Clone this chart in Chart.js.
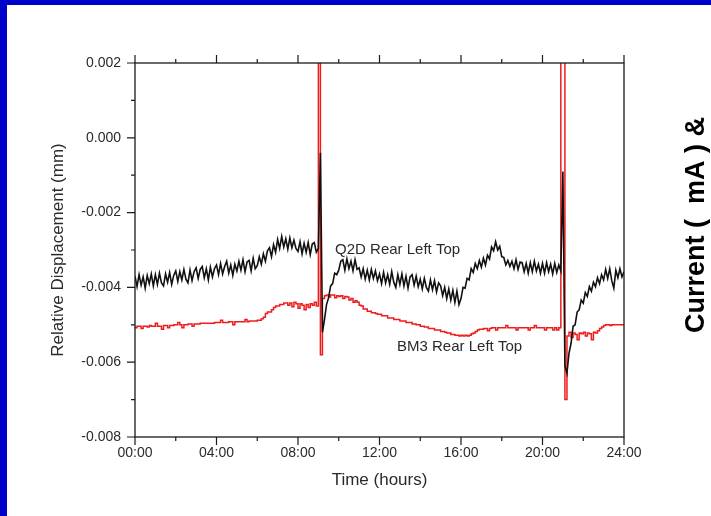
<!DOCTYPE html>
<html>
<head>
<meta charset="utf-8">
<script src="https://cdn.jsdelivr.net/npm/chart.js@4.4.1/dist/chart.umd.min.js"></script>
<style>
  html, body { margin: 0; padding: 0; background: #fff; }
  #wrap { width: 711px; height: 516px; position: relative; }
</style>
</head>
<body>
<div id="wrap"><canvas id="chart" width="711" height="516"></canvas></div>
<script>
// ── DATA ──
// samples every 0.1 h from 00:00 to 24:00, displacement in mm
const SAMPLE_STEP = 0.1;

const q2dValues = [
  -0.00370, -0.00398, -0.00366, -0.00394, -0.00372, -0.00402, -0.00368, -0.00390, -0.00364, -0.00396,
  -0.00366, -0.00392, -0.00362, -0.00388, -0.00396, -0.00364, -0.00386, -0.00360, -0.00392, -0.00368,
  -0.00356, -0.00384, -0.00358, -0.00380, -0.00352, -0.00378, -0.00388, -0.00354, -0.00382, -0.00358,
  -0.00348, -0.00376, -0.00352, -0.00344, -0.00374, -0.00350, -0.00380, -0.00346, -0.00372, -0.00350,
  -0.00340, -0.00366, -0.00336, -0.00364, -0.00344, -0.00330, -0.00362, -0.00340, -0.00368, -0.00338,
  -0.00356, -0.00330, -0.00354, -0.00326, -0.00358, -0.00332, -0.00328, -0.00356, -0.00322, -0.00350,
  -0.00342, -0.00318, -0.00338, -0.00310, -0.00330, -0.00302, -0.00294, -0.00318, -0.00286, -0.00306,
  -0.00272, -0.00296, -0.00264, -0.00292, -0.00270, -0.00298, -0.00268, -0.00294, -0.00274, -0.00296,
  -0.00304, -0.00278, -0.00310, -0.00282, -0.00306, -0.00280, -0.00312, -0.00284, -0.00280, -0.00306,
  -0.00296, -0.00040, -0.00520, -0.00486, -0.00446, -0.00428, -0.00396, -0.00390, -0.00362, -0.00366,
  -0.00354, -0.00330, -0.00326, -0.00354, -0.00324, -0.00350, -0.00330, -0.00356, -0.00326, -0.00352,
  -0.00348, -0.00372, -0.00350, -0.00378, -0.00354, -0.00380, -0.00352, -0.00376, -0.00356, -0.00382,
  -0.00364, -0.00390, -0.00360, -0.00388, -0.00366, -0.00392, -0.00358, -0.00386, -0.00400, -0.00366,
  -0.00392, -0.00364, -0.00396, -0.00370, -0.00402, -0.00372, -0.00366, -0.00394, -0.00370, -0.00398,
  -0.00378, -0.00404, -0.00376, -0.00400, -0.00410, -0.00380, -0.00406, -0.00382, -0.00412, -0.00388,
  -0.00396, -0.00422, -0.00400, -0.00430, -0.00404, -0.00434, -0.00408, -0.00440, -0.00410, -0.00446,
  -0.00430, -0.00400, -0.00402, -0.00376, -0.00380, -0.00350, -0.00360, -0.00336, -0.00350, -0.00328,
  -0.00346, -0.00322, -0.00340, -0.00314, -0.00324, -0.00292, -0.00302, -0.00278, -0.00300, -0.00290,
  -0.00318, -0.00320, -0.00340, -0.00328, -0.00344, -0.00330, -0.00350, -0.00326, -0.00352, -0.00332,
  -0.00334, -0.00358, -0.00336, -0.00362, -0.00334, -0.00358, -0.00330, -0.00356, -0.00338, -0.00362,
  -0.00336, -0.00362, -0.00334, -0.00358, -0.00338, -0.00364, -0.00336, -0.00360, -0.00340, -0.00356,
  -0.00090, -0.00610, -0.00630, -0.00576, -0.00550, -0.00504, -0.00500, -0.00466, -0.00460, -0.00434,
  -0.00442, -0.00414, -0.00424, -0.00398, -0.00410, -0.00386, -0.00398, -0.00374, -0.00390, -0.00366,
  -0.00380, -0.00352, -0.00376, -0.00350, -0.00382, -0.00402, -0.00354, -0.00374, -0.00350, -0.00372,
  -0.00358
];

const bm3Values = [
  -0.00504, -0.00508, -0.00504, -0.00504, -0.00510, -0.00504, -0.00504, -0.00506, -0.00502, -0.00504,
  -0.00504, -0.00496, -0.00504, -0.00504, -0.00512, -0.00502, -0.00502, -0.00508, -0.00502, -0.00502,
  -0.00500, -0.00500, -0.00494, -0.00500, -0.00508, -0.00500, -0.00500, -0.00498, -0.00498, -0.00504,
  -0.00498, -0.00498, -0.00498, -0.00496, -0.00496, -0.00496, -0.00496, -0.00496, -0.00496, -0.00496,
  -0.00494, -0.00494, -0.00494, -0.00488, -0.00494, -0.00494, -0.00494, -0.00492, -0.00492, -0.00500,
  -0.00492, -0.00492, -0.00492, -0.00492, -0.00492, -0.00486, -0.00492, -0.00490, -0.00490, -0.00490,
  -0.00490, -0.00488, -0.00488, -0.00484, -0.00480, -0.00470, -0.00466, -0.00466, -0.00460, -0.00454,
  -0.00450, -0.00450, -0.00446, -0.00446, -0.00442, -0.00442, -0.00448, -0.00442, -0.00452, -0.00440,
  -0.00444, -0.00456, -0.00444, -0.00448, -0.00460, -0.00446, -0.00454, -0.00444, -0.00448, -0.00440,
  -0.00450,  0.00300, -0.00580, -0.00430, -0.00422, -0.00420, -0.00426, -0.00420, -0.00420, -0.00428,
  -0.00422, -0.00424, -0.00422, -0.00430, -0.00424, -0.00426, -0.00434, -0.00430, -0.00440, -0.00436,
  -0.00440, -0.00448, -0.00450, -0.00458, -0.00458, -0.00464, -0.00464, -0.00468, -0.00468, -0.00470,
  -0.00472, -0.00472, -0.00476, -0.00476, -0.00476, -0.00482, -0.00482, -0.00482, -0.00486, -0.00486,
  -0.00486, -0.00490, -0.00490, -0.00490, -0.00494, -0.00494, -0.00494, -0.00498, -0.00498, -0.00500,
  -0.00500, -0.00504, -0.00504, -0.00506, -0.00506, -0.00510, -0.00510, -0.00510, -0.00514, -0.00514,
  -0.00514, -0.00518, -0.00518, -0.00520, -0.00522, -0.00522, -0.00526, -0.00526, -0.00528, -0.00528,
  -0.00530, -0.00528, -0.00530, -0.00528, -0.00530, -0.00528, -0.00524, -0.00522, -0.00518, -0.00514,
  -0.00512, -0.00512, -0.00510, -0.00510, -0.00516, -0.00510, -0.00508, -0.00508, -0.00514, -0.00508,
  -0.00508, -0.00508, -0.00508, -0.00502, -0.00508, -0.00508, -0.00508, -0.00508, -0.00514, -0.00508,
  -0.00508, -0.00508, -0.00508, -0.00508, -0.00514, -0.00508, -0.00508, -0.00502, -0.00508, -0.00508,
  -0.00508, -0.00508, -0.00514, -0.00508, -0.00508, -0.00508, -0.00514, -0.00508, -0.00514, -0.00508,
   0.00300,  0.00300, -0.00700, -0.00530, -0.00520, -0.00534, -0.00522, -0.00526, -0.00540, -0.00522,
  -0.00524, -0.00520, -0.00530, -0.00522, -0.00524, -0.00540, -0.00520, -0.00522, -0.00516, -0.00510,
  -0.00506, -0.00502, -0.00500, -0.00500, -0.00502, -0.00500, -0.00500, -0.00500, -0.00500, -0.00500,
  -0.00500
];

// ── TICKS ──
const timeLabels  = ['00:00', '04:00', '08:00', '12:00', '16:00', '20:00', '24:00'];
const majorHours  = [0, 4, 8, 12, 16, 20, 24];
const minorHours  = [2, 6, 10, 14, 18, 22];
const majorDisp   = [0.002, 0, -0.002, -0.004, -0.006, -0.008];
const minorDisp   = [0.001, -0.001, -0.003, -0.005, -0.007];

// ── CURVE LABELS (hour, mm) ──
const q2dLabel = { text: 'Q2D Rear Left Top', hour: 9.82, value: -0.0030 };
const bm3Label = { text: 'BM3 Rear Left Top', hour: 12.86, value: -0.0056 };

const FONT = "'Liberation Sans', Arial, sans-serif";
const INK  = '#2a2a2a';

const toPoints = vals => vals.map((v, i) => ({ x: +(i * SAMPLE_STEP).toFixed(1), y: v }));

// ── FRAME / TICKS / SLIDE DECOR ──
const framePlugin = {
  id: 'framePlugin',
  beforeDraw(chart) {
    const { ctx, width, height } = chart;
    ctx.save();
    ctx.fillStyle = '#ffffff';
    ctx.fillRect(0, 0, width, height);
    ctx.fillStyle = '#0000cc';
    ctx.fillRect(0, 0, width, 5);
    ctx.fillRect(0, 0, 7, height);
    ctx.restore();
  },
  afterDatasetsDraw(chart) {
    const { ctx, scales: { x, y } } = chart;
    ctx.save();
    ctx.font = `15px ${FONT}`;
    ctx.fillStyle = INK;
    ctx.textBaseline = 'middle';
    [q2dLabel, bm3Label].forEach(l => {
      ctx.fillText(l.text, x.getPixelForValue(l.hour), y.getPixelForValue(l.value));
    });
    ctx.restore();
  },
  afterDraw(chart) {
    const { ctx, chartArea: { left, right, top, bottom }, scales: { x, y } } = chart;
    ctx.save();
    ctx.strokeStyle = '#1a1a1a';
    ctx.lineWidth = 1.3;
    ctx.strokeRect(left, top, right - left, bottom - top);

    ctx.lineWidth = 1.2;
    ctx.beginPath();
    const hTick = (h, len) => {
      const px = x.getPixelForValue(h);
      ctx.moveTo(px, bottom); ctx.lineTo(px, bottom + len);
      ctx.moveTo(px, top);    ctx.lineTo(px, top - len);
    };
    const vTick = (v, len) => {
      const py = y.getPixelForValue(v);
      ctx.moveTo(left, py); ctx.lineTo(left - len, py);
    };
    majorHours.forEach(h => hTick(h, 8));
    minorHours.forEach(h => hTick(h, 4));
    majorDisp.forEach(v => vTick(v, 8));
    minorDisp.forEach(v => vTick(v, 4));
    ctx.stroke();

    // side label of the slide
    ctx.translate(697, 225);
    ctx.rotate(-Math.PI / 2);
    ctx.font = `bold 27px ${FONT}`;
    ctx.fillStyle = '#000000';
    ctx.textAlign = 'center';
    ctx.textBaseline = 'middle';
    ctx.fillText('Current (  mA ) &', 0, 0);
    ctx.restore();
  }
};

new Chart(document.getElementById('chart'), {
  type: 'line',
  data: {
    datasets: [
      {
        label: 'Q2D Rear Left Top',
        data: toPoints(q2dValues),
        borderColor: '#111111',
        borderWidth: 1.6,
        pointRadius: 0,
        tension: 0,
        fill: false
      },
      {
        label: 'BM3 Rear Left Top',
        data: toPoints(bm3Values),
        borderColor: '#ee1c1c',
        borderWidth: 1.5,
        pointRadius: 0,
        stepped: 'after',
        fill: false
      }
    ]
  },
  options: {
    responsive: false,
    animation: false,
    events: [],
    layout: { padding: { top: 63, right: 87, left: 0, bottom: 0 } },
    plugins: { legend: { display: false }, tooltip: { enabled: false } },
    scales: {
      x: {
        type: 'linear',
        min: 0,
        max: 24,
        afterFit: s => { s.height = 79; },
        grid: { display: false, drawTicks: false },
        border: { display: false },
        ticks: {
          stepSize: 4,
          autoSkip: false,
          maxRotation: 0,
          padding: 8,
          color: INK,
          font: { family: FONT, size: 14 },
          callback: (v, i) => timeLabels[i]
        },
        title: {
          display: true,
          text: 'Time (hours)',
          color: INK,
          font: { family: FONT, size: 17 },
          padding: { top: 0, bottom: 25 }
        }
      },
      y: {
        min: -0.008,
        max: 0.002,
        afterFit: s => { s.width = 135; },
        grid: { display: false, drawTicks: false },
        border: { display: false },
        ticks: {
          stepSize: 0.002,
          padding: 14,
          color: INK,
          font: { family: FONT, size: 14 },
          callback: v => (Math.abs(v) < 1e-9 ? 0 : v).toFixed(3)
        },
        title: {
          display: true,
          text: 'Relative Displacement (mm)',
          color: INK,
          font: { family: FONT, size: 17 },
          padding: { top: 48, bottom: 0 }
        }
      }
    }
  },
  plugins: [framePlugin]
});
</script>
</body>
</html>
